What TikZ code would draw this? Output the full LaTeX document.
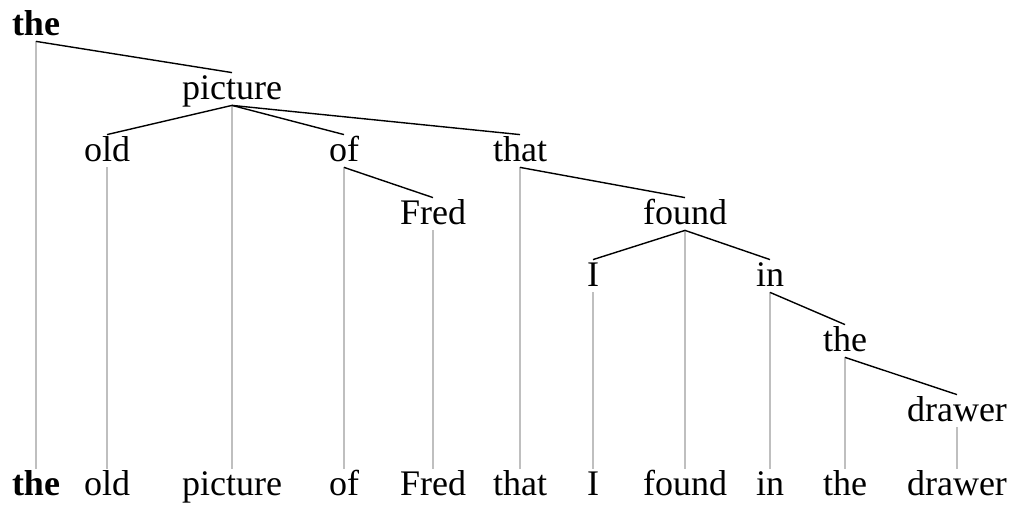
\documentclass[tikz,border=0pt]{standalone}
\usepackage{fontspec}
\setmainfont{Liberation Serif}
\begin{document}
\begin{tikzpicture}[x=0.5pt,y=-0.5pt,
  word/.style={inner sep=0pt, anchor=base, font=\fontsize{18}{20}\selectfont, text height=13.5pt, text depth=2.5pt},
  bword/.style={word, font=\fontsize{18}{20}\selectfont\bfseries},
  dep/.style={draw=black, line width=0.7pt},
  proj/.style={draw=black!25, line width=0.7pt}]
\useasboundingbox (0,0) rectangle (1016,506);
% tree nodes
\node[bword] (t0) at (36,36) {the};
\node[word] (t1) at (232,100) {picture};
\node[word] (t2) at (107,162) {old};
\node[word] (t3) at (344,162) {of};
\node[word] (t4) at (520,162) {that};
\node[word] (t5) at (433,225) {Fred};
\node[word] (t6) at (685,225) {found};
\node[word] (t7) at (593,287) {I};
\node[word] (t8) at (770,287) {in};
\node[word] (t9) at (845,352) {the};
\node[word] (t10) at (957,422) {drawer};
% bottom row
\node[bword] (b0) at (36,496) {the};
\node[word] (b2) at (107,496) {old};
\node[word] (b1) at (232,496) {picture};
\node[word] (b3) at (344,496) {of};
\node[word] (b5) at (433,496) {Fred};
\node[word] (b4) at (520,496) {that};
\node[word] (b7) at (593,496) {I};
\node[word] (b6) at (685,496) {found};
\node[word] (b8) at (770,496) {in};
\node[word] (b9) at (845,496) {the};
\node[word] (b10) at (957,496) {drawer};
% projection lines
\foreach \i in {0,...,10} { \draw[proj] (t\i.south) -- (b\i.north); }
% dependency lines
\draw[dep] (t0.south) -- (t1.north);
\draw[dep] (t1.south) -- (t2.north);
\draw[dep] (t1.south) -- (t3.north);
\draw[dep] (t1.south) -- (t4.north);
\draw[dep] (t3.south) -- (t5.north);
\draw[dep] (t4.south) -- (t6.north);
\draw[dep] (t6.south) -- (t7.north);
\draw[dep] (t6.south) -- (t8.north);
\draw[dep] (t8.south) -- (t9.north);
\draw[dep] (t9.south) -- (t10.north);
\end{tikzpicture}
\end{document}
